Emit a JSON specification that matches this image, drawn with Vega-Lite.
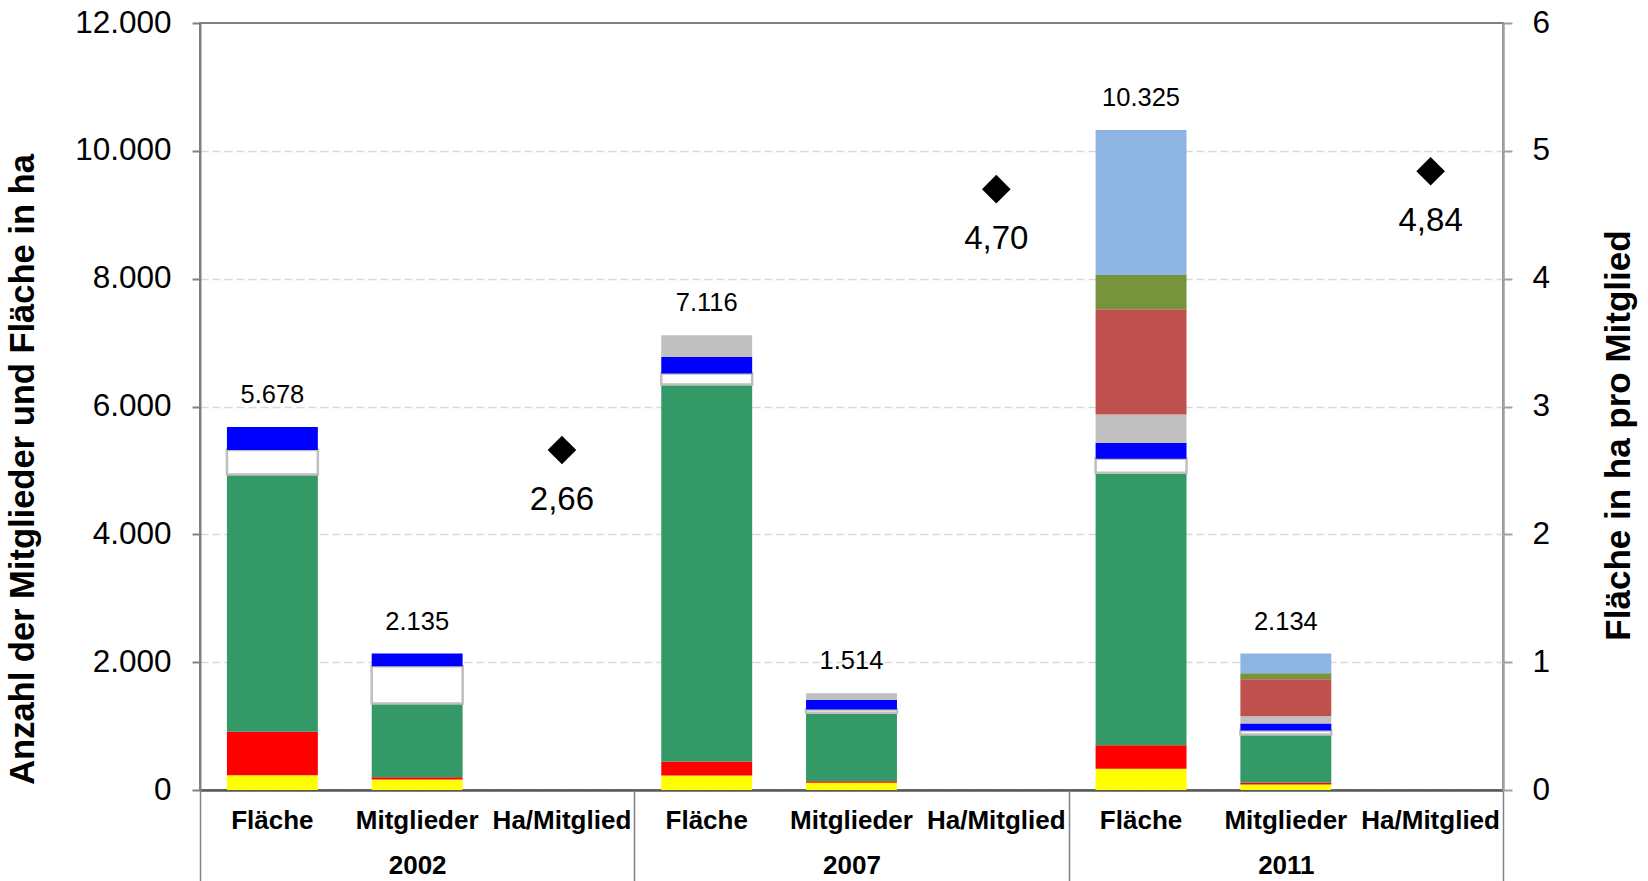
{
  "$schema": "https://vega.github.io/schema/vega-lite/v6.json",
  "autosize": {"type": "none"},
  "padding": {"left": 200, "top": 23, "right": 145, "bottom": 91},
  "width": 1303,
  "height": 767,
  "config": {
    "font": "Liberation Sans",
    "locale": {"number": {"decimal": ",", "thousands": ".", "grouping": [3], "currency": ["", " €"]}},
    "view": {"stroke": "#808080", "strokeWidth": 2}
  },
  "datasets": {
    "segs": [
      {"x": "2002|Fläche", "seg": "gelb", "o": 1, "value": 232},
      {"x": "2002|Fläche", "seg": "rot", "o": 2, "value": 678},
      {"x": "2002|Fläche", "seg": "grün", "o": 3, "value": 4027},
      {"x": "2002|Fläche", "seg": "weiß", "o": 4, "value": 381},
      {"x": "2002|Fläche", "seg": "blau", "o": 5, "value": 360},
      {"x": "2002|Mitglieder", "seg": "gelb", "o": 1, "value": 164},
      {"x": "2002|Mitglieder", "seg": "rot", "o": 2, "value": 36},
      {"x": "2002|Mitglieder", "seg": "grün", "o": 3, "value": 1154},
      {"x": "2002|Mitglieder", "seg": "weiß", "o": 4, "value": 584},
      {"x": "2002|Mitglieder", "seg": "blau", "o": 5, "value": 197},
      {"x": "2007|Fläche", "seg": "gelb", "o": 1, "value": 227},
      {"x": "2007|Fläche", "seg": "rot", "o": 2, "value": 219},
      {"x": "2007|Fläche", "seg": "grün", "o": 3, "value": 5900},
      {"x": "2007|Fläche", "seg": "weiß", "o": 4, "value": 172},
      {"x": "2007|Fläche", "seg": "blau", "o": 5, "value": 255},
      {"x": "2007|Fläche", "seg": "grau", "o": 6, "value": 343},
      {"x": "2007|Mitglieder", "seg": "gelb", "o": 1, "value": 112},
      {"x": "2007|Mitglieder", "seg": "rot", "o": 2, "value": 26},
      {"x": "2007|Mitglieder", "seg": "grün", "o": 3, "value": 1070},
      {"x": "2007|Mitglieder", "seg": "weiß", "o": 4, "value": 52},
      {"x": "2007|Mitglieder", "seg": "blau", "o": 5, "value": 150},
      {"x": "2007|Mitglieder", "seg": "grau", "o": 6, "value": 104},
      {"x": "2011|Fläche", "seg": "gelb", "o": 1, "value": 332},
      {"x": "2011|Fläche", "seg": "rot", "o": 2, "value": 369},
      {"x": "2011|Fläche", "seg": "grün", "o": 3, "value": 4263},
      {"x": "2011|Fläche", "seg": "weiß", "o": 4, "value": 219},
      {"x": "2011|Fläche", "seg": "blau", "o": 5, "value": 250},
      {"x": "2011|Fläche", "seg": "grau", "o": 6, "value": 443},
      {"x": "2011|Fläche", "seg": "dunkelrot", "o": 7, "value": 1644},
      {"x": "2011|Fläche", "seg": "oliv", "o": 8, "value": 537},
      {"x": "2011|Fläche", "seg": "hellblau", "o": 9, "value": 2268},
      {"x": "2011|Mitglieder", "seg": "gelb", "o": 1, "value": 86},
      {"x": "2011|Mitglieder", "seg": "rot", "o": 2, "value": 26},
      {"x": "2011|Mitglieder", "seg": "grün", "o": 3, "value": 757},
      {"x": "2011|Mitglieder", "seg": "weiß", "o": 4, "value": 62},
      {"x": "2011|Mitglieder", "seg": "blau", "o": 5, "value": 110},
      {"x": "2011|Mitglieder", "seg": "grau", "o": 6, "value": 114},
      {"x": "2011|Mitglieder", "seg": "dunkelrot", "o": 7, "value": 579},
      {"x": "2011|Mitglieder", "seg": "oliv", "o": 8, "value": 94},
      {"x": "2011|Mitglieder", "seg": "hellblau", "o": 9, "value": 306}
    ],
    "ratio": [
      {"x": "2002|Ha/Mitglied", "year": "2002", "ratio": 2.66},
      {"x": "2007|Ha/Mitglied", "year": "2007", "ratio": 4.70},
      {"x": "2011|Ha/Mitglied", "year": "2011", "ratio": 4.84}
    ]
  },
  "layer": [
    {
      "layer": [
        {
          "data": {"name": "segs"},
          "layer": [
            {
              "mark": {"type": "bar", "strokeWidth": 2.5},
              "encoding": {
                "x": {
                  "field": "x", "type": "nominal", "sort": null,
                  "scale": {
                    "domain": ["2002|Fläche", "2002|Mitglieder", "2002|Ha/Mitglied", "2007|Fläche", "2007|Mitglieder", "2007|Ha/Mitglied", "2011|Fläche", "2011|Mitglieder", "2011|Ha/Mitglied"],
                    "paddingInner": 0.372, "paddingOuter": 0.186
                  },
                  "axis": {
                    "orient": "bottom", "title": null, "labelAngle": 0,
                    "labelExpr": "split(datum.value, '|')[1]",
                    "labelFont": "Liberation Sans", "labelFontSize": 26, "labelFontWeight": "bold", "labelColor": "#000000",
                    "labelPadding": 17, "ticks": false, "grid": false,
                    "domainColor": "#595959", "domainWidth": 2.5, "labelLimit": 300
                  }
                },
                "y": {
                  "field": "value", "type": "quantitative", "stack": "zero",
                  "scale": {"domain": [0, 12000], "nice": false},
                  "axis": {
                    "orient": "left",
                    "title": "Anzahl der Mitglieder und Fläche in ha",
                    "titleFont": "Liberation Sans", "titleFontSize": 34.5, "titleFontWeight": "bold", "titleColor": "#000000",
                    "titlePadding": 34, "titleY": 446,
                    "values": [0, 2000, 4000, 6000, 8000, 10000, 12000],
                    "format": ",.0f",
                    "labelFontSize": 31.5, "labelColor": "#000000", "labelPadding": 21,
                    "tickSize": 8, "tickColor": "#808080", "tickWidth": 2,
                    "domainColor": "#808080", "domainWidth": 2,
                    "grid": true, "gridColor": "#D9D9D9", "gridDash": [8, 4], "gridWidth": 1.5,
                    "gridOpacity": {"condition": {"test": "datum.value >= 12000", "value": 0}, "value": 1}
                  }
                },
                "color": {
                  "field": "seg", "type": "nominal", "legend": null,
                  "scale": {
                    "domain": ["gelb", "rot", "grün", "weiß", "blau", "grau", "dunkelrot", "oliv", "hellblau"],
                    "range": ["#FFFF00", "#FF0000", "#339966", "#FFFFFF", "#0000FF", "#C0C0C0", "#C0504D", "#77933C", "#8EB4E3"]
                  }
                },
                "stroke": {"condition": {"test": "datum.seg === 'weiß'", "value": "#BFBFBF"}, "value": null},
                "order": {"field": "o", "type": "quantitative"}
              }
            },
            {
              "transform": [{"aggregate": [{"op": "sum", "field": "value", "as": "total"}], "groupby": ["x"]}],
              "mark": {"type": "text", "baseline": "alphabetic", "dy": -24, "fontSize": 25.5, "color": "#000000"},
              "encoding": {
                "x": {"field": "x", "type": "nominal", "sort": null},
                "y": {"field": "total", "type": "quantitative"},
                "text": {"field": "total", "type": "quantitative", "format": ",.0f"}
              }
            }
          ]
        },
        {
          "data": {"name": "ratio"},
          "layer": [
            {
              "mark": {"type": "point", "shape": "diamond", "filled": true, "size": 820, "color": "#000000", "opacity": 1},
              "encoding": {
                "x": {"field": "x", "type": "nominal", "sort": null},
                "y": {
                  "field": "ratio", "type": "quantitative",
                  "scale": {"domain": [0, 6], "nice": false},
                  "axis": {
                    "orient": "right",
                    "title": "Fläche in ha pro Mitglied",
                    "titleFont": "Liberation Sans", "titleFontSize": 35, "titleFontWeight": "bold", "titleColor": "#000000",
                    "titleAngle": 270, "titleBaseline": "top", "titlePadding": 52, "titleY": 412,
                    "values": [0, 1, 2, 3, 4, 5, 6], "format": "d",
                    "labelFontSize": 31.5, "labelColor": "#000000", "labelPadding": 20,
                    "tickSize": 9, "tickColor": "#A0A0A0", "tickWidth": 2,
                    "domainColor": "#A0A0A0", "domainWidth": 2.5,
                    "grid": false
                  }
                }
              }
            },
            {
              "mark": {"type": "text", "baseline": "alphabetic", "dy": 60, "fontSize": 33, "color": "#000000"},
              "encoding": {
                "x": {"field": "x", "type": "nominal", "sort": null},
                "y": {"field": "ratio", "type": "quantitative"},
                "text": {"field": "ratio", "type": "quantitative", "format": ".2f"}
              }
            }
          ]
        }
      ],
      "resolve": {"scale": {"y": "independent"}}
    },
    {
      "data": {"name": "ratio"},
      "mark": {"type": "rule", "strokeOpacity": 0},
      "encoding": {
        "x": {
          "field": "year", "type": "nominal", "sort": null,
          "scale": {"domain": ["2002", "2007", "2011"], "paddingInner": 0, "paddingOuter": 0},
          "axis": {
            "orient": "bottom", "title": null, "labelAngle": 0, "domain": false, "grid": false,
            "ticks": true, "tickBand": "extent", "tickSize": 91, "tickColor": "#808080", "tickWidth": 1.5,
            "labelFont": "Liberation Sans", "labelFontSize": 26, "labelFontWeight": "bold", "labelColor": "#000000",
            "labelPadding": -29
          }
        }
      }
    }
  ],
  "resolve": {"scale": {"x": "independent"}}
}
